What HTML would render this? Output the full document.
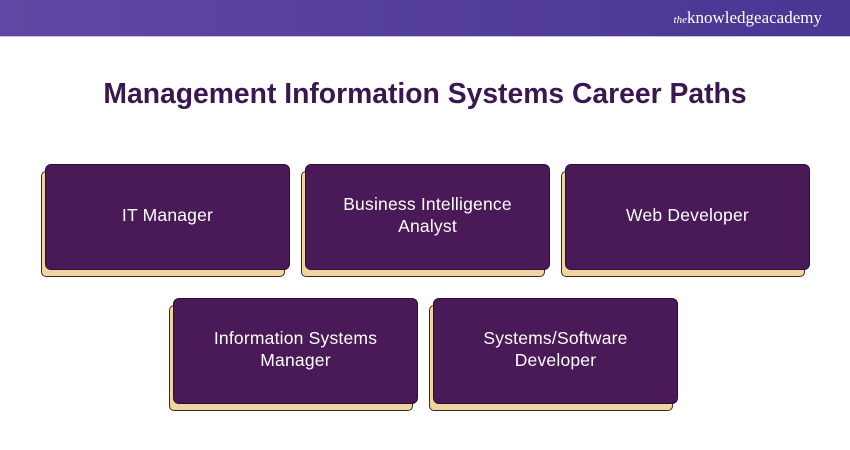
<!DOCTYPE html>
<html><head><style>
body{margin:0;width:850px;height:450px;background:#fff;position:relative;overflow:hidden;font-family:"Liberation Sans",sans-serif}
.hdr{position:absolute;left:0;top:0;width:850px;height:36px;background:linear-gradient(90deg,#5e48a3,#4a3592);border-bottom:1px solid #c9c0e0}
.logo{position:absolute;right:28px;top:8px;color:#fff;font-family:"Liberation Serif",serif;font-size:17px}
.logo i{font-size:11px}
h1{position:absolute;top:77px;left:0;width:850px;text-align:center;margin:0;font-size:28.3px;color:#3b1750;font-weight:bold}
.b{position:absolute;width:244px;height:106px;background:#f1d59e;border:1.5px solid #3a2a2a;border-radius:5px;box-sizing:border-box}
.f{position:absolute;width:245px;height:106px;background:#4a1957;border:1.5px solid #2a0e33;border-radius:6px;box-sizing:border-box;color:#fff;font-size:17.5px;letter-spacing:0.2px;display:flex;align-items:center;justify-content:center;text-align:center;line-height:22px;padding-bottom:4px}
</style></head><body>
<div class="hdr"><div class="logo"><i>the</i>knowledgeacademy</div></div>
<h1>Management Information Systems Career Paths</h1>
<div class="b" style="left:41px;top:171px"></div><div class="f" style="left:45px;top:164px">IT Manager</div>
<div class="b" style="left:301px;top:171px"></div><div class="f" style="left:305px;top:164px">Business Intelligence<br>Analyst</div>
<div class="b" style="left:561px;top:171px"></div><div class="f" style="left:565px;top:164px">Web Developer</div>
<div class="b" style="left:169px;top:305px"></div><div class="f" style="left:173px;top:298px">Information Systems<br>Manager</div>
<div class="b" style="left:429px;top:305px"></div><div class="f" style="left:433px;top:298px">Systems/Software<br>Developer</div>
</body></html>
